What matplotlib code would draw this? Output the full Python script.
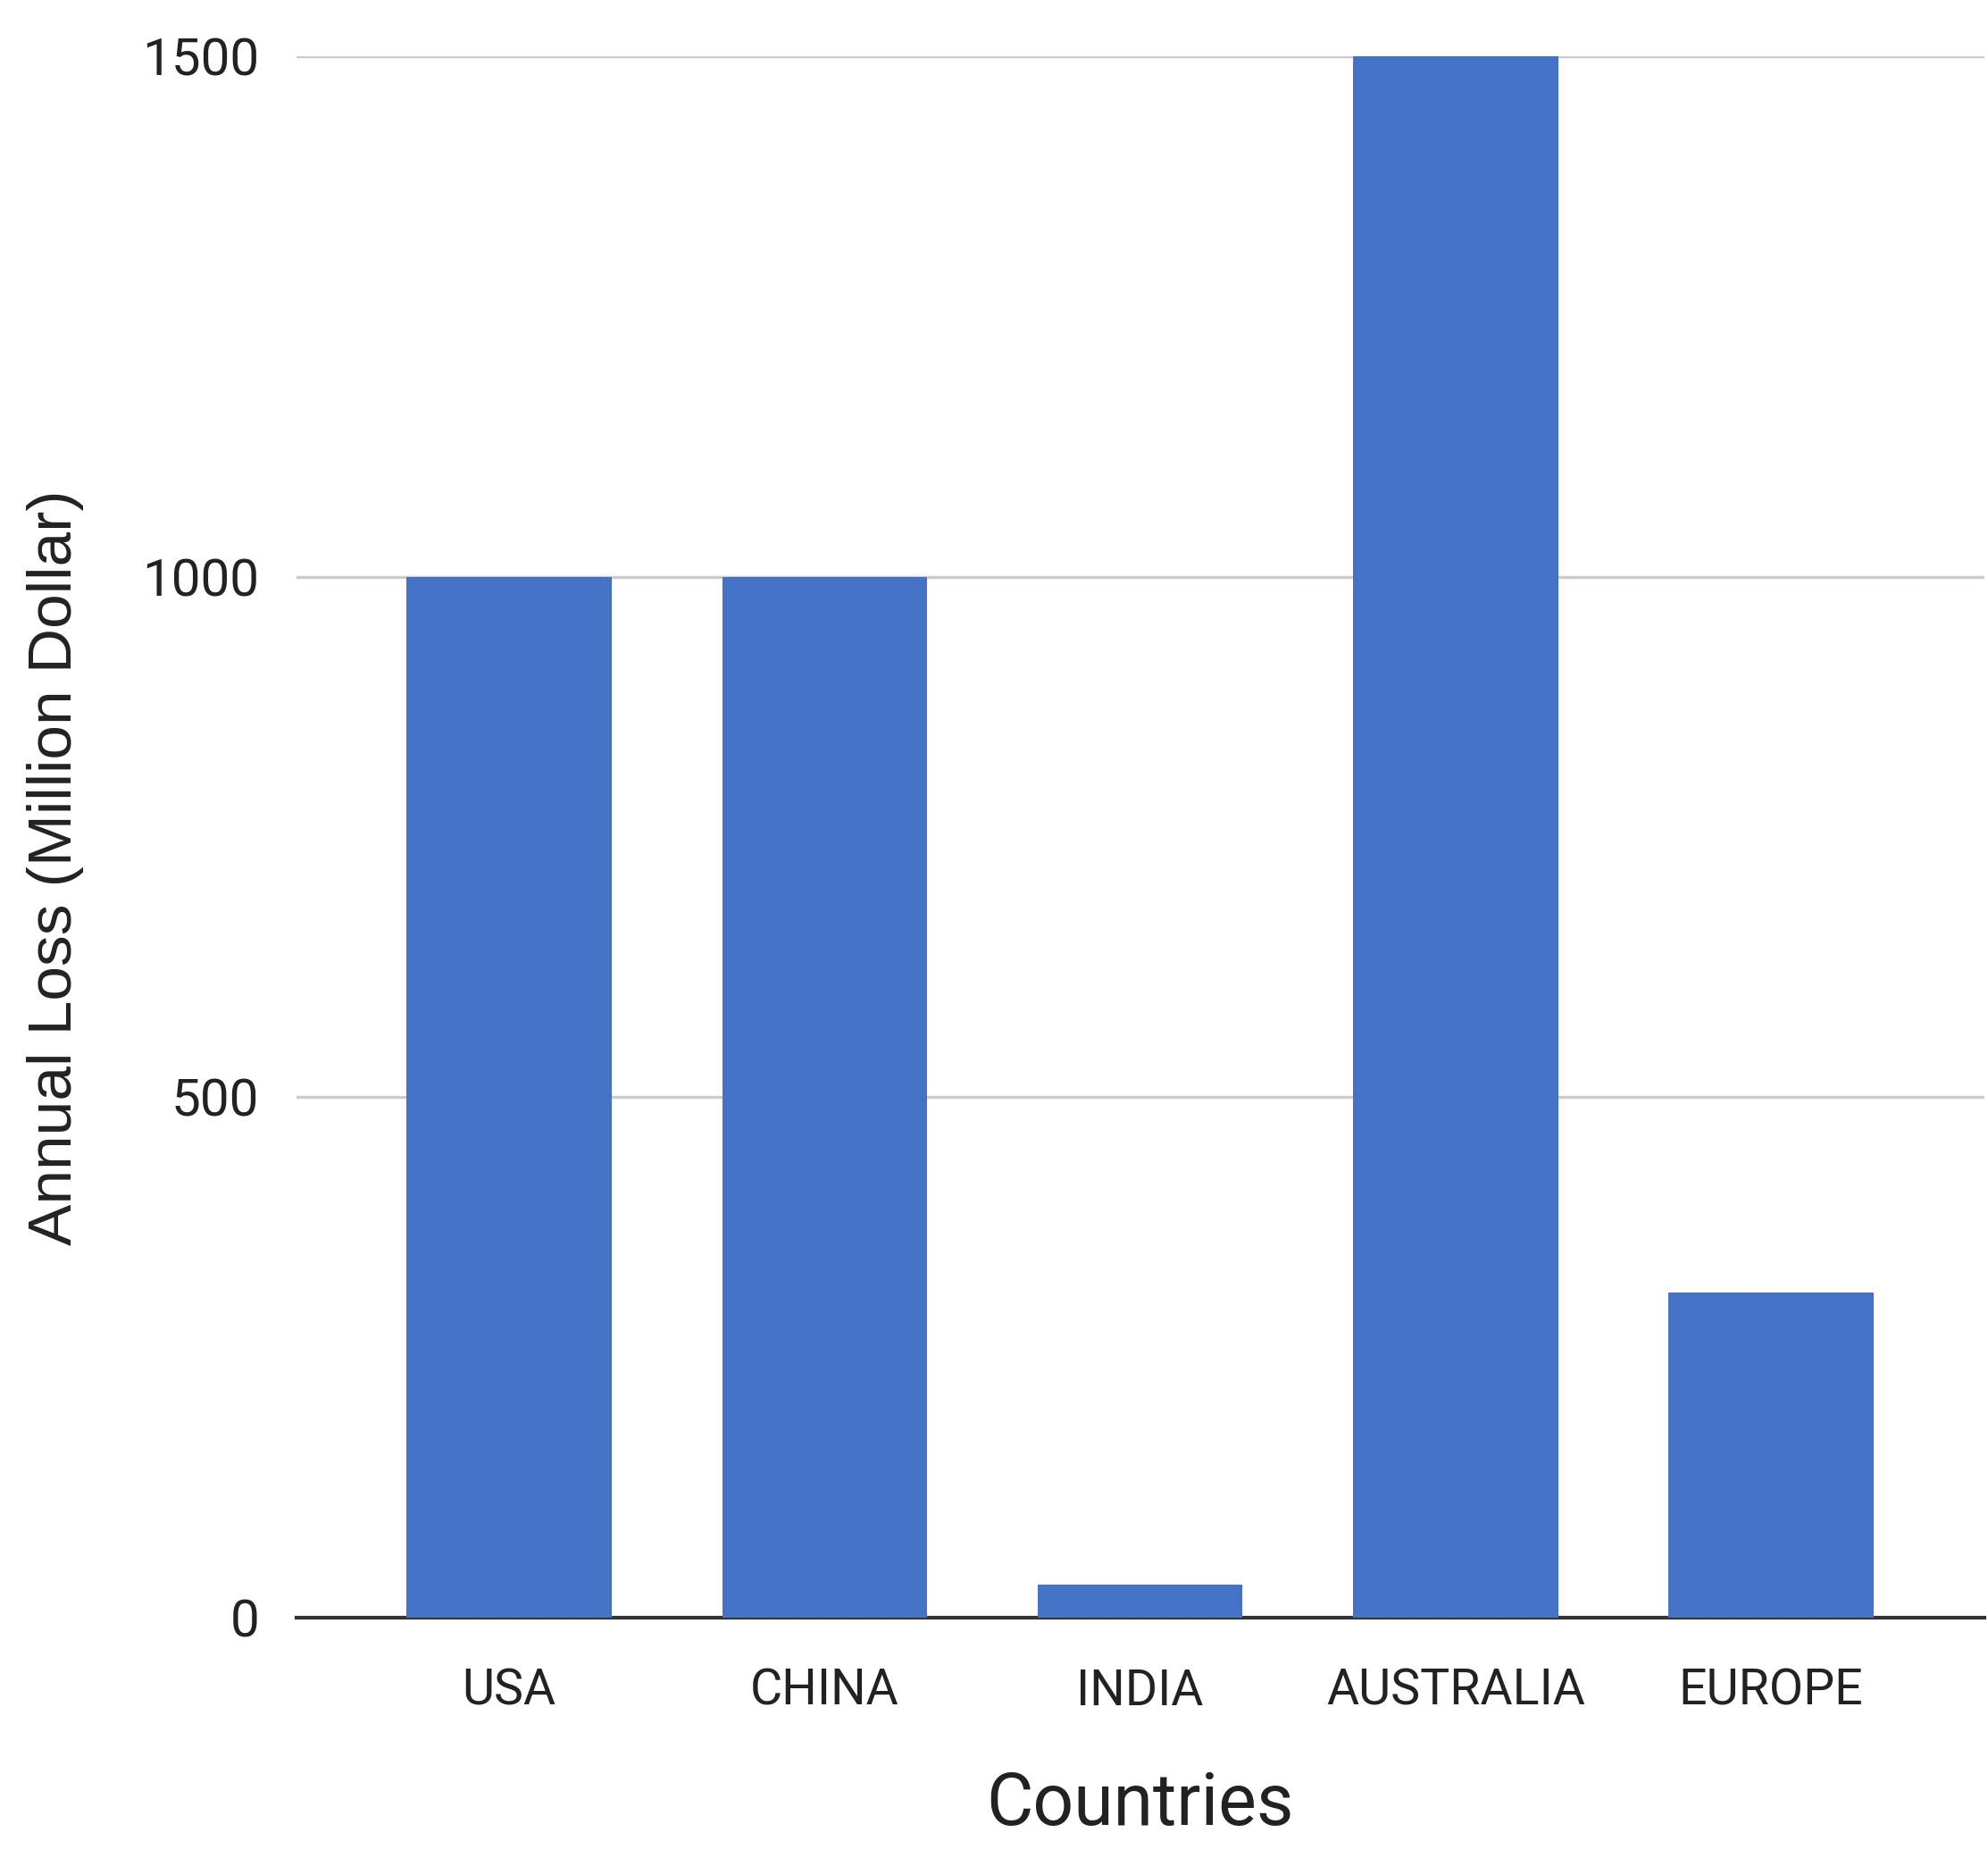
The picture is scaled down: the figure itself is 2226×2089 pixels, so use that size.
import matplotlib
matplotlib.use("Agg")
import matplotlib.pyplot as plt

categories = ["USA", "CHINA", "INDIA", "AUSTRALIA", "EUROPE"]
values = [1000, 1000, 32, 1500, 312]
yticks = [0, 500, 1000, 1500]

fig = plt.figure(figsize=(22.26, 20.89), dpi=100)
ax = fig.add_axes([0.149, 0.133, 0.849, 0.837])
font = ["Liberation Sans Narrow", "Roboto", "DejaVu Sans"]
ax.bar(range(len(categories)), values, width=0.65, color="#4472C4", zorder=3)
ax.set_xlim(-0.675, 4.675)
ax.set_ylim(0, 1500)
ax.set_yticks(yticks)
ax.set_yticklabels([str(t) for t in yticks], family=font, fontsize=42, color="#222222")
ax.set_xticks(range(len(categories)))
ax.set_xticklabels(categories, family=font, fontsize=40, color="#222222")
ax.grid(axis="y", color="#cccccc", linewidth=2.5, zorder=0)
for s in ["top", "right", "left"]:
    ax.spines[s].set_visible(False)
ax.spines["bottom"].set_linewidth(3)
ax.spines["bottom"].set_color("#333333")
ax.tick_params(axis="x", length=0, pad=40)
ax.tick_params(axis="y", length=0, pad=30)
ax.set_xlabel("Countries", family=font, fontsize=58, labelpad=45, color="#222222")
fig.text(0.028, 0.535, "Annual Loss (Million Dollar)", rotation=90, ha="center", va="center",
         family=["Liberation Sans", "DejaVu Sans"], fontsize=50, color="#222222")
fig.savefig("out.png", dpi=100)
